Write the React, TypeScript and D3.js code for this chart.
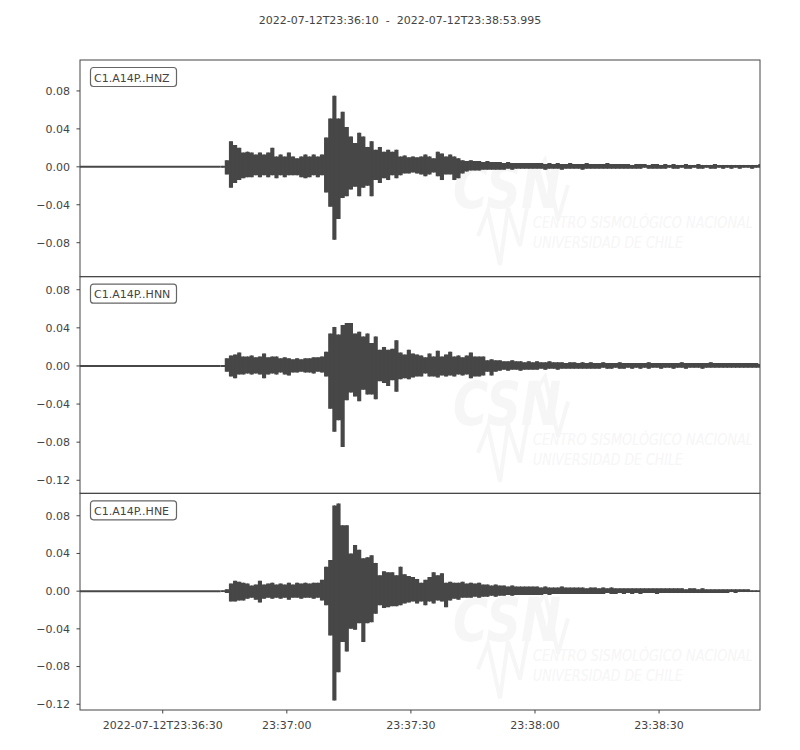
import * as d3 from 'd3';

// Trace start and the visible span of the time axis (seconds)
const START_ISO = '2022-07-12T23:36:10Z';
const TITLE = '2022-07-12T23:36:10  -  2022-07-12T23:38:53.995';
const SPAN_SEC = 164.4;
// envelope bins: 1 s wide, starting at 34 s after START (quiet before that)
const BIN_START = 34;
const BIN_SEC = 1;

const CHANNELS = ['C1.A14P..HNZ', 'C1.A14P..HNN', 'C1.A14P..HNE'];

const X_TICKS = [
  '2022-07-12T23:36:30Z',
  '2022-07-12T23:37:00Z',
  '2022-07-12T23:37:30Z',
  '2022-07-12T23:38:00Z',
  '2022-07-12T23:38:30Z',
];

const Y_DOMAINS: [number, number][] = [
  [-0.1158, 0.1126],
  [-0.1337, 0.0937],
  [-0.1261, 0.1038],
];
const Y_TICKS = [
  [0.08, 0.04, 0, -0.04, -0.08],
  [0.08, 0.04, 0, -0.04, -0.08, -0.12],
  [0.08, 0.04, 0, -0.04, -0.08, -0.12],
];

// per-second max / min of each trace
const Z_HI = [
  0.001, 0.007, 0.027, 0.023, 0.02, 0.015, 0.016, 0.015, 0.013, 0.015,
  0.013, 0.015, 0.02, 0.011, 0.013, 0.011, 0.015, 0.011, 0.009, 0.011,
  0.013, 0.011, 0.013, 0.011, 0.013, 0.031, 0.051, 0.075, 0.051, 0.058,
  0.042, 0.032, 0.025, 0.036, 0.032, 0.021, 0.027, 0.018, 0.021, 0.016,
  0.018, 0.016, 0.018, 0.011, 0.012, 0.01, 0.011, 0.01, 0.011, 0.013,
  0.011, 0.009, 0.016, 0.014, 0.011, 0.013, 0.011, 0.009, 0.007, 0.006,
  0.007, 0.006, 0.006, 0.005, 0.006, 0.005, 0.005, 0.005, 0.004, 0.005,
  0.004, 0.004, 0.004, 0.004, 0.004, 0.004, 0.004, 0.004, 0.003, 0.004,
  0.003, 0.004, 0.003, 0.003, 0.004, 0.003, 0.003, 0.003, 0.004, 0.003,
  0.003, 0.003, 0.003, 0.004, 0.003, 0.003, 0.003, 0.003, 0.003, 0.002,
  0.003, 0.003, 0.003, 0.002, 0.003, 0.003, 0.002, 0.003, 0.002, 0.003,
  0.002, 0.002, 0.003, 0.002, 0.002, 0.003, 0.002, 0.002, 0.002, 0.003,
  0.002, 0.002, 0.002, 0.002, 0.002, 0.002, 0.002, 0.002, 0.002, 0.002,
  0.003,
];
const Z_LO = [
  -0.001, -0.008, -0.022, -0.017, -0.014, -0.012, -0.011, -0.011, -0.009, -0.011,
  -0.009, -0.011, -0.009, -0.012, -0.009, -0.011, -0.009, -0.009, -0.009, -0.011,
  -0.012, -0.011, -0.009, -0.011, -0.009, -0.027, -0.042, -0.077, -0.055, -0.033,
  -0.031, -0.024, -0.021, -0.031, -0.022, -0.02, -0.031, -0.014, -0.017, -0.012,
  -0.014, -0.009, -0.012, -0.009, -0.007, -0.007, -0.006, -0.007, -0.008, -0.01,
  -0.008, -0.006, -0.01, -0.014, -0.008, -0.008, -0.014, -0.012, -0.007, -0.005,
  -0.004, -0.004, -0.004, -0.003, -0.003, -0.003, -0.003, -0.003, -0.003, -0.002,
  -0.003, -0.002, -0.002, -0.002, -0.002, -0.002, -0.002, -0.002, -0.003, -0.002,
  -0.002, -0.002, -0.003, -0.002, -0.002, -0.002, -0.002, -0.003, -0.002, -0.002,
  -0.002, -0.002, -0.002, -0.002, -0.002, -0.002, -0.002, -0.002, -0.002, -0.002,
  -0.002, -0.002, -0.001, -0.002, -0.002, -0.002, -0.002, -0.002, -0.001, -0.002,
  -0.002, -0.001, -0.002, -0.002, -0.001, -0.002, -0.002, -0.001, -0.002, -0.002,
  -0.001, -0.002, -0.001, -0.002, -0.001, -0.002, -0.001, -0.001, -0.002, -0.001,
  -0.001,
];
const N_HI = [
  0.001, 0.008, 0.011, 0.012, 0.014, 0.01, 0.01, 0.011, 0.009, 0.01,
  0.013, 0.009, 0.01, 0.01, 0.008, 0.009, 0.008, 0.007, 0.008, 0.007,
  0.008, 0.008, 0.009, 0.009, 0.01, 0.015, 0.034, 0.041, 0.033, 0.043,
  0.045, 0.045, 0.034, 0.036, 0.031, 0.034, 0.024, 0.031, 0.017, 0.02,
  0.017, 0.018, 0.027, 0.014, 0.012, 0.017, 0.013, 0.012, 0.011, 0.009,
  0.013, 0.01, 0.016, 0.01, 0.012, 0.015, 0.01, 0.011, 0.009, 0.011,
  0.014, 0.01, 0.01, 0.01, 0.006, 0.007, 0.006, 0.006, 0.005, 0.005,
  0.006, 0.005, 0.005, 0.004, 0.005, 0.004, 0.005, 0.004, 0.004, 0.005,
  0.004, 0.004, 0.004, 0.003, 0.004, 0.004, 0.003, 0.004, 0.003, 0.004,
  0.003, 0.003, 0.004, 0.003, 0.003, 0.003, 0.004, 0.003, 0.003, 0.003,
  0.003, 0.003, 0.003, 0.004, 0.003, 0.003, 0.003, 0.003, 0.003, 0.003,
  0.003, 0.004, 0.003, 0.003, 0.003, 0.003, 0.003, 0.003, 0.004, 0.003,
  0.003, 0.003, 0.003, 0.003, 0.003, 0.003, 0.003, 0.003, 0.003, 0.003,
  0.002,
];
const N_LO = [
  -0.001, -0.006, -0.011, -0.013, -0.009, -0.009, -0.008, -0.009, -0.008, -0.009,
  -0.013, -0.009, -0.008, -0.009, -0.007, -0.009, -0.01, -0.007, -0.007, -0.006,
  -0.007, -0.007, -0.008, -0.006, -0.007, -0.011, -0.045, -0.069, -0.057, -0.085,
  -0.036, -0.028, -0.032, -0.037, -0.025, -0.03, -0.03, -0.035, -0.016, -0.018,
  -0.021, -0.015, -0.027, -0.014, -0.013, -0.014, -0.012, -0.011, -0.011, -0.008,
  -0.011, -0.011, -0.012, -0.01, -0.011, -0.01, -0.011, -0.009, -0.01, -0.009,
  -0.013, -0.011, -0.011, -0.01, -0.006, -0.01, -0.006, -0.005, -0.004, -0.005,
  -0.004, -0.004, -0.005, -0.004, -0.004, -0.004, -0.004, -0.003, -0.004, -0.003,
  -0.003, -0.004, -0.003, -0.003, -0.003, -0.003, -0.003, -0.003, -0.003, -0.003,
  -0.003, -0.003, -0.002, -0.003, -0.003, -0.002, -0.003, -0.003, -0.002, -0.003,
  -0.002, -0.003, -0.002, -0.003, -0.002, -0.002, -0.003, -0.002, -0.002, -0.003,
  -0.002, -0.002, -0.003, -0.002, -0.002, -0.002, -0.003, -0.002, -0.002, -0.002,
  -0.002, -0.002, -0.002, -0.002, -0.002, -0.002, -0.002, -0.002, -0.002, -0.002,
  -0.002,
];
const E_HI = [
  0.001, 0.002, 0.008, 0.011, 0.01, 0.009, 0.008, 0.006, 0.007, 0.011,
  0.007, 0.008, 0.009, 0.007, 0.008, 0.007, 0.009, 0.007, 0.009, 0.008,
  0.009, 0.008, 0.009, 0.009, 0.012, 0.026, 0.033, 0.091, 0.093, 0.07,
  0.07, 0.04, 0.049, 0.044, 0.035, 0.036, 0.038, 0.03, 0.017, 0.021,
  0.02, 0.02, 0.017, 0.026, 0.018, 0.016, 0.015, 0.013, 0.009, 0.012,
  0.015, 0.02, 0.017, 0.019, 0.009, 0.01, 0.009, 0.009, 0.01, 0.008,
  0.009, 0.008, 0.009, 0.007, 0.007, 0.006, 0.007, 0.006, 0.006, 0.005,
  0.006, 0.005, 0.005, 0.005, 0.005, 0.005, 0.005, 0.004, 0.005, 0.004,
  0.004, 0.004, 0.005, 0.004, 0.004, 0.004, 0.004, 0.004, 0.003, 0.004,
  0.004, 0.003, 0.004, 0.003, 0.004, 0.003, 0.003, 0.003, 0.003, 0.003,
  0.003, 0.003, 0.003, 0.003, 0.003, 0.003, 0.003, 0.003, 0.003, 0.003,
  0.003, 0.003, 0.002, 0.003, 0.003, 0.002, 0.003, 0.002, 0.002, 0.002,
  0.002, 0.002, 0.002, 0.002, 0.002, 0.002, 0.002, 0.002, 0.001, 0.001,
  0.001,
];
const E_LO = [
  -0.001, -0.002, -0.011, -0.011, -0.01, -0.01, -0.008, -0.007, -0.009, -0.012,
  -0.008, -0.007, -0.008, -0.007, -0.008, -0.007, -0.009, -0.007, -0.007, -0.008,
  -0.007, -0.007, -0.008, -0.007, -0.01, -0.015, -0.047, -0.116, -0.086, -0.054,
  -0.064, -0.04, -0.041, -0.034, -0.054, -0.034, -0.033, -0.024, -0.015, -0.018,
  -0.017, -0.016, -0.016, -0.015, -0.013, -0.012, -0.011, -0.013, -0.011, -0.015,
  -0.011, -0.013, -0.01, -0.011, -0.017, -0.01, -0.008, -0.009, -0.007, -0.007,
  -0.007, -0.006, -0.007, -0.006, -0.006, -0.005, -0.006, -0.005, -0.005, -0.004,
  -0.005, -0.004, -0.004, -0.004, -0.004, -0.004, -0.004, -0.004, -0.003, -0.004,
  -0.003, -0.003, -0.003, -0.003, -0.003, -0.003, -0.003, -0.003, -0.003, -0.003,
  -0.003, -0.003, -0.003, -0.002, -0.003, -0.003, -0.002, -0.003, -0.002, -0.003,
  -0.002, -0.003, -0.002, -0.002, -0.002, -0.003, -0.002, -0.002, -0.002, -0.002,
  -0.002, -0.002, -0.002, -0.002, -0.002, -0.002, -0.002, -0.002, -0.002, -0.002,
  -0.002, -0.002, -0.002, -0.001, -0.002, -0.001, -0.001, -0.001, -0.001, -0.001,
  -0.001,
];

const TRACES = [
  { hi: Z_HI, lo: Z_LO },
  { hi: N_HI, lo: N_LO },
  { hi: E_HI, lo: E_LO },
];

const FONT = '"DejaVu Sans", sans-serif';
const INK = '#444';
const TRACE_COLOR = '#474747';
const WATERMARK = '#f6f6f6';

const width = 800;
const height = 750;
const margin = { top: 60, right: 40, bottom: 40, left: 80 };
const innerW = width - margin.left - margin.right;
const innerH = height - margin.top - margin.bottom;
const panelH = innerH / CHANNELS.length;

const start = new Date(START_ISO);
const atSec = (s: number) => new Date(start.getTime() + s * 1000);

type Bin = { t: number; hi: number; lo: number };

export default function App() {
  const xScale = d3.scaleUtc().domain([start, atSec(SPAN_SEC)]).range([0, innerW]);
  const yFmt = d3.format('.2f');
  const xTicks = X_TICKS.map((t) => new Date(t));
  const firstFmt = d3.utcFormat('%Y-%m-%dT%H:%M:%S');
  const restFmt = d3.utcFormat('%H:%M:%S');

  return (
    <svg
      width={width}
      height={height}
      style={{ position: 'absolute', left: 0, top: 0, background: '#fff' }}
      fontFamily={FONT}
    >
      <text
        x={width / 2}
        y={24}
        textAnchor='middle'
        fontSize={11}
        fill={INK}
        style={{ whiteSpace: 'pre' }}
      >
        {TITLE}
      </text>

      {TRACES.map((tr, i) => {
        const top = margin.top + i * panelH;
        const yScale = d3.scaleLinear().domain(Y_DOMAINS[i]).range([panelH, 0]);

        const bins: Bin[] = tr.hi.map((h, k) => ({
          t: BIN_START + k * BIN_SEC,
          hi: h,
          lo: tr.lo[k],
        }));
        // min/max envelope per bin (step shape), as ObsPy draws long traces
        const area = d3
          .area<Bin>()
          .curve(d3.curveStepAfter)
          .x((b) => xScale(atSec(b.t)))
          .y0((b) => yScale(b.lo))
          .y1((b) => yScale(b.hi));
        const quiet = d3
          .line<number>()
          .x((t) => xScale(atSec(t)))
          .y(() => yScale(0));
        const bx = xScale(atSec(BIN_START + BIN_SEC)) - xScale(atSec(BIN_START));
        const clipId = `clip-${i}`;

        return (
          <g key={CHANNELS[i]} transform={`translate(${margin.left},${top})`}>
            <clipPath id={clipId}>
              <rect x={0} y={0} width={innerW} height={panelH} />
            </clipPath>

            {/* faint CSN watermark */}
            <g fill={WATERMARK} fontStyle='italic'>
              <text x={373} y={148} fontSize={60} fontWeight='bold' textLength={108} lengthAdjust='spacingAndGlyphs'>
                CSN
              </text>
              <text x={453} y={168} fontSize={15} textLength={220} lengthAdjust='spacingAndGlyphs'>
                CENTRO SISMOLÓGICO NACIONAL
              </text>
              <text x={453} y={188} fontSize={15} textLength={150} lengthAdjust='spacingAndGlyphs'>
                UNIVERSIDAD DE CHILE
              </text>
            </g>
            <polyline
              points='398,176 408,150 420,205 428,148 440,186 452,120 465,100 478,160 488,125'
              fill='none'
              stroke={WATERMARK}
              strokeWidth={4}
            />

            <g clipPath={`url(#${clipId})`}>
              <path
                d={quiet([0, BIN_START]) ?? ''}
                fill='none'
                stroke={TRACE_COLOR}
                strokeWidth={2}
              />
              <path
                d={area([...bins, { ...bins[bins.length - 1], t: BIN_START + bins.length * BIN_SEC }]) ?? ''}
                fill={TRACE_COLOR}
                stroke='none'
              />
              {/* thin spike per bin so peaks read as single strokes */}
              {bins.map((b, k) => (
                <line
                  key={k}
                  x1={xScale(atSec(b.t)) + bx / 2}
                  x2={xScale(atSec(b.t)) + bx / 2}
                  y1={yScale(b.lo)}
                  y2={yScale(b.hi)}
                  stroke={TRACE_COLOR}
                  strokeWidth={1}
                />
              ))}
            </g>

            <rect
              x={0}
              y={0}
              width={innerW}
              height={panelH}
              fill='none'
              stroke={INK}
              strokeWidth={1}
            />

            {/* y ticks */}
            {Y_TICKS[i].map((t) => (
              <g key={t} transform={`translate(0,${yScale(t)})`}>
                <line x1={-3.5} x2={0} stroke={INK} />
                <text x={-10} dy='0.35em' textAnchor='end' fontSize={11} fill={INK}>
                  {yFmt(t)}
                </text>
              </g>
            ))}

            {/* channel label */}
            <rect
              x={10.5}
              y={7.5}
              width={86}
              height={19}
              rx={3}
              fill='#fff'
              stroke='#666'
              strokeWidth={1.2}
            />
            <text x={14} y={21.5} fontSize={11} fill={INK}>
              {CHANNELS[i]}
            </text>
          </g>
        );
      })}

      {/* x axis */}
      <g transform={`translate(${margin.left},${margin.top + innerH})`}>
        {xTicks.map((t, j) => (
          <g key={j} transform={`translate(${xScale(t)},0)`}>
            <line y1={0} y2={3.5} stroke={INK} />
            <text y={19} textAnchor='middle' fontSize={11} fill={INK}>
              {j === 0 ? firstFmt(t) : restFmt(t)}
            </text>
          </g>
        ))}
      </g>
    </svg>
  );
}
